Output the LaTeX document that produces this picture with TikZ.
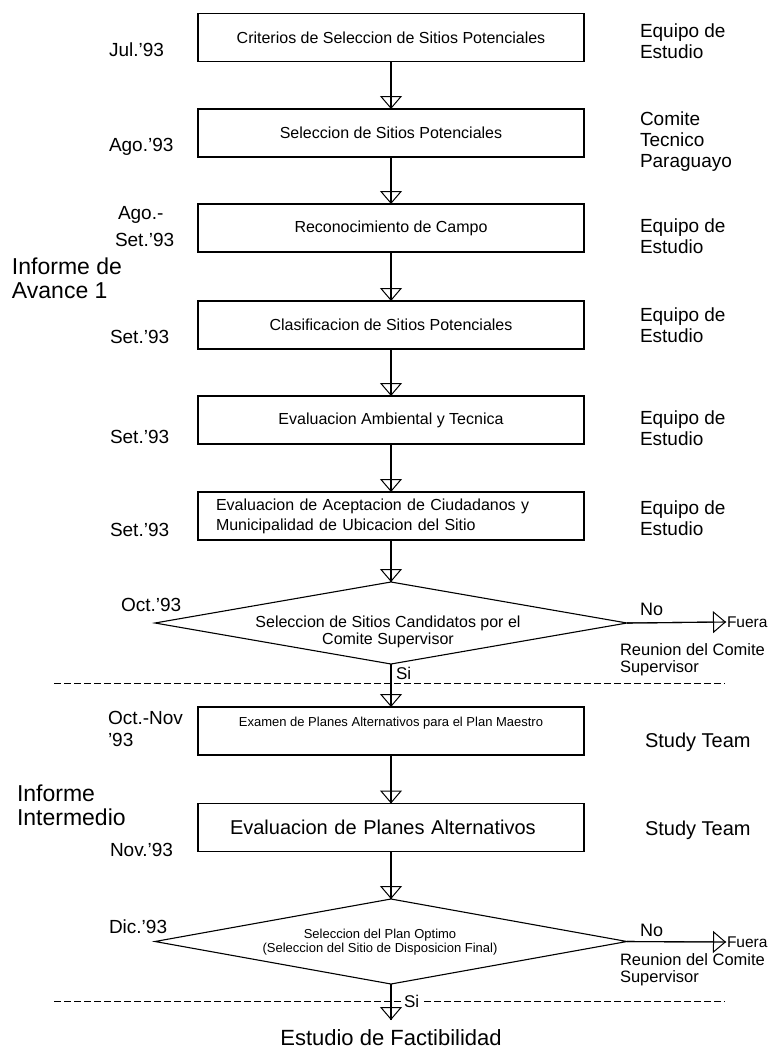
\documentclass[tikz,border=0pt]{standalone}
\usepackage{fontspec}
\setmainfont{Liberation Sans}
\usetikzlibrary{shapes.geometric,arrows.meta}

\newcommand\fsz[2]{\fontsize{#1}{#2}\selectfont}

\begin{document}
\begin{tikzpicture}[x=1pt,y=-1pt,
  every node/.style={inner sep=0pt, outer sep=0pt},
  stepbox/.style={draw, line width=1.2pt, minimum width=386pt, minimum height=48pt, font=\fsz{16}{18}},
  choice/.style={draw, line width=1.1pt, shape=diamond, aspect=6, minimum width=472pt, minimum height=82pt},
  flow/.style={line width=1.1pt, -{Triangle[open, width=22pt, length=13pt, line width=1pt]}, postaction={draw, -}},
  when/.style={anchor=west, font=\fsz{19}{22}, align=left},
  who/.style={anchor=west, font=\fsz{19}{21}, align=left},
  report/.style={anchor=west, font=\fsz{23}{24}, align=left},
  meeting/.style={anchor=west, font=\fsz{16.5}{17}, align=left},
  divider/.style={line width=0.9pt, dash pattern=on 7pt off 3pt}
]
\useasboundingbox (0,0) rectangle (775,1057);

% process steps
\node[stepbox] (b1) at (391,37.5) {Criterios de Seleccion de Sitios Potenciales};
\node[stepbox] (b2) at (391,133) {Seleccion de Sitios Potenciales};
\node[stepbox] (b3) at (391,228) {Reconocimiento de Campo};
\node[stepbox] (b4) at (391,325) {Clasificacion de Sitios Potenciales};
\node[stepbox] (b5) at (391,420) {Evaluacion Ambiental y Tecnica};
\node[stepbox, font=\fsz{16}{20}, text width=350pt, align=left] (b6) at (391,516)
  {Evaluacion de Aceptacion de Ciudadanos y\\Municipalidad de Ubicacion del Sitio};
\node[stepbox, font=\fsz{13}{15}, text height=10pt, text depth=20pt] (b7) at (391,731)
  {Examen de Planes Alternativos para el Plan Maestro};
\node[stepbox, font=\fsz{20}{22}, text width=322pt, align=left] (b8) at (391,827.5)
  {Evaluacion de Planes Alternativos};

% decisions
\node[choice] (d1) at (391,623) {};
\node[font=\fsz{16}{17}, align=center] (d1t) at (388,632)
  {Seleccion de Sitios Candidatos por el\\Comite Supervisor};
\node[choice, minimum height=85pt] (d2) at (391,941.5) {};
\node[font=\fsz{13}{13.5}, align=center] (d2t) at (380,942)
  {Seleccion del Plan Optimo\\(Seleccion del Sitio de Disposicion Final)};

% dates
\node[when] (t1) at (109,50) {Jul.'93};
\node[when] (t2) at (109,147) {Ago.'93};
\node[when, font=\fsz{19}{27}] (t3) at (115,227) {\hspace*{3pt}Ago.-\\Set.'93};
\node[when] (t4) at (110,337) {Set.'93};
\node[when] (t5) at (110,437) {Set.'93};
\node[when] (t6) at (110,530) {Set.'93};
\node[when] (t7) at (121,605) {Oct.'93};
\node[when] (t8) at (108,729) {Oct.-Nov\\'93};
\node[when] (t9) at (110,850) {Nov.'93};
\node[when] (t10) at (109,927) {Dic.'93};

% reports
\node[report] (r1) at (12,278) {Informe de\\Avance 1};
\node[report] (r2) at (17,805) {Informe\\Intermedio};

% responsible parties
\node[who] (w1) at (640,41) {Equipo de\\Estudio};
\node[who] (w2) at (640,142) {Comite\\Tecnico\\Paraguayo};
\node[who] (w3) at (640,236) {Equipo de\\Estudio};
\node[who] (w4) at (640,325) {Equipo de\\Estudio};
\node[who] (w5) at (640,428) {Equipo de\\Estudio};
\node[who] (w6) at (640,518) {Equipo de\\Estudio};
\node[who, font=\fsz{20}{22}] (w7) at (645,742) {Study Team};
\node[who, font=\fsz{20}{22}] (w8) at (645,830) {Study Team};

% rejected branches
\node[anchor=west, font=\fsz{18}{20}] (no1) at (640,609) {No};
\node[anchor=west, font=\fsz{15.5}{18}, inner sep=1pt] (f1) at (726,622) {Fuera};
\node[meeting] (m1) at (620,660) {Reunion del Comite\\Supervisor};
\node[anchor=west, font=\fsz{18}{20}] (no2) at (640,930) {No};
\node[anchor=west, font=\fsz{15.5}{18}, inner sep=1pt] (f2) at (726,942) {Fuera};
\node[meeting] (m2) at (620,970) {Reunion del Comite\\Supervisor};

% phase dividers
\coordinate (l1a) at (54,683);
\coordinate (l1b) at (725,683);
\coordinate (l2a) at (54,1001);
\coordinate (l2b) at (725,1001);
\draw[divider] (l1a) -- (l1b);
\draw[divider] (l2a) -- (l2b);

% accepted branches
\node[anchor=west, font=\fsz{17}{18}] (si1) at (396,673) {Si};
\node[anchor=west, font=\fsz{17}{18}, fill=white, inner xsep=2pt] (si2) at (402,1001) {Si};

% next stage
\node[font=\fsz{22}{24}] (fact) at (391,1038) {Estudio de Factibilidad};
\coordinate (fin) at (391,1020);

% flow
\draw[flow] (b1) -- (b2);
\draw[flow] (b2) -- (b3);
\draw[flow] (b3) -- (b4);
\draw[flow] (b4) -- (b5);
\draw[flow] (b5) -- (b6);
\draw[flow] (b6) -- (d1);
\draw[flow] (d1) -- (b7);
\draw[flow] (b7) -- (b8);
\draw[flow] (b8) -- (d2);
\draw[flow] (d2.south) -- (fin);
\draw[flow] (d1.east) -- (f1.west);
\draw[flow] (d2.east) -- (f2.west);
\end{tikzpicture}
\end{document}
